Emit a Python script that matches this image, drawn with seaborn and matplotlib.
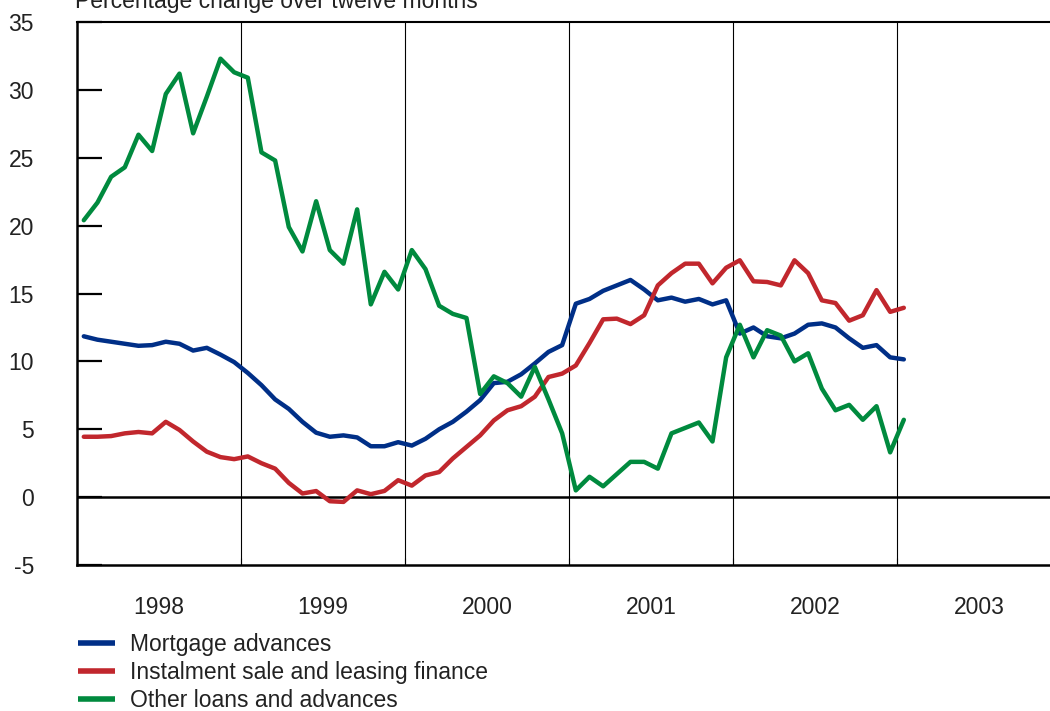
import numpy as np
import pandas as pd
import matplotlib.pyplot as plt
import seaborn as sns

# monthly observations, Jan 1998 - Jan 2003 (percentage change over twelve months)
months = pd.date_range("1998-01-01", periods=61, freq="MS")

mortgage = [11.85, 11.6, 11.45, 11.3, 11.15, 11.2, 11.45, 11.3, 10.8, 11.0, 10.5, 9.95,
            9.15, 8.25, 7.2, 6.5, 5.55, 4.75, 4.45, 4.55, 4.4, 3.75, 3.75, 4.05,
            3.8, 4.3, 5.0, 5.55, 6.3, 7.15, 8.4, 8.5, 9.05, 9.85, 10.7, 11.2,
            14.25, 14.6, 15.2, 15.6, 16.0, 15.3, 14.5, 14.7, 14.4, 14.6, 14.2, 14.5,
            12.05, 12.5, 11.85, 11.7, 12.05, 12.7, 12.8, 12.5, 11.7, 11.0, 11.2, 10.3,
            10.15]
instalment = [4.45, 4.45, 4.5, 4.7, 4.8, 4.7, 5.55, 4.95, 4.1, 3.35, 2.95, 2.8,
              3.0, 2.5, 2.1, 1.05, 0.27, 0.45, -0.3, -0.35, 0.5, 0.22, 0.46, 1.25,
              0.85, 1.6, 1.85, 2.85, 3.7, 4.55, 5.65, 6.4, 6.7, 7.4, 8.85, 9.1,
              9.7, 11.35, 13.1, 13.15, 12.75, 13.4, 15.6, 16.5, 17.2, 17.2, 15.75, 16.9,
              17.45, 15.9, 15.85, 15.6, 17.45, 16.5, 14.5, 14.3, 13.0, 13.4, 15.25, 13.65,
              13.95]
other = [20.4, 21.7, 23.6, 24.3, 26.7, 25.5, 29.7, 31.2, 26.8, 29.5, 32.3, 31.3,
         30.9, 25.4, 24.8, 19.9, 18.1, 21.8, 18.2, 17.2, 21.2, 14.2, 16.6, 15.3,
         18.2, 16.8, 14.1, 13.5, 13.2, 7.6, 8.9, 8.4, 7.4, 9.6, 7.2, 4.7,
         0.5, 1.5, 0.8, 1.7, 2.6, 2.6, 2.1, 4.7, 5.1, 5.5, 4.1, 10.3,
         12.7, 10.3, 12.3, 11.9, 10.0, 10.6, 8.0, 6.4, 6.8, 5.7, 6.7, 3.3,
         5.7]

series_names = ["Mortgage advances", "Instalment sale and leasing finance",
                "Other loans and advances"]
colors = ["#002f87", "#c1272d", "#008a3e"]
years = [1998, 1999, 2000, 2001, 2002, 2003]

# decimal-year position of each month (mid-month)
xpos = months.year + (months.month - 0.5) / 12

df = pd.DataFrame({"x": np.tile(xpos, 3),
                   "value": mortgage + instalment + other,
                   "series": np.repeat(series_names, len(months))})

sns.set_style("white")
plt.rcParams["font.family"] = ["Liberation Sans", "DejaVu Sans"]
plt.rcParams["font.size"] = 16.5
plt.rcParams["axes.unicode_minus"] = False

FS = 16.5
TXT = "#222222"

fig = plt.figure(figsize=(10.5, 7.11), dpi=100)
ax = fig.add_axes([0.0733, 0.2053, 0.9267, 0.7637])

sns.lineplot(data=df, x="x", y="value", hue="series", hue_order=series_names,
             palette=colors, linewidth=3.2, ax=ax, zorder=3)

ax.set_xlim(1998, 1998 + 973 / 164)
ax.set_ylim(-5, 35)
ax.set_xlabel("")
ax.set_ylabel("")

# year dividers and zero line
for yr in years[1:]:
    ax.axvline(yr, color="black", lw=0.8, zorder=1)
ax.axhline(0, color="black", lw=1.8, zorder=2)

# y ticks: inside, long
ax.set_yticks(range(-5, 36, 5))
ax.tick_params(axis="y", direction="in", length=18, width=1.6, pad=31,
               labelsize=FS, left=True, colors="black", labelcolor=TXT)

# x: year labels centred, small ticks on year boundaries
ax.set_xticks([y + 0.5 for y in years])
ax.set_xticklabels([str(y) for y in years])
ax.set_xticks(years[1:], minor=True)
ax.tick_params(axis="x", which="major", length=0, pad=22, labelsize=FS,
               labelcolor=TXT)
ax.tick_params(axis="x", which="minor", direction="in", length=5, width=0.8,
               bottom=True)

for s in ("left", "bottom"):
    ax.spines[s].set_linewidth(1.8)
    ax.spines[s].set_color("black")
ax.spines["top"].set_linewidth(1.5)
ax.spines["top"].set_color("black")
ax.spines["right"].set_visible(False)

fig.text(0.071, 0.989, "Percentage change over twelve months", fontsize=FS,
         color=TXT, va="baseline", ha="left")

handles, labels = ax.get_legend_handles_labels()
ax.get_legend().remove()
leg = fig.legend(handles, labels, loc="upper left",
                 bbox_to_anchor=(78 / 1050, 1 - 633 / 711),
                 frameon=False, fontsize=FS, handlelength=1.6,
                 handletextpad=0.65, labelspacing=0.21, borderpad=0,
                 borderaxespad=0)
for line in leg.get_lines():
    line.set_linewidth(4)
    line.set_solid_capstyle("butt")
for t in leg.get_texts():
    t.set_color(TXT)

fig.savefig("out.png", dpi=100)
